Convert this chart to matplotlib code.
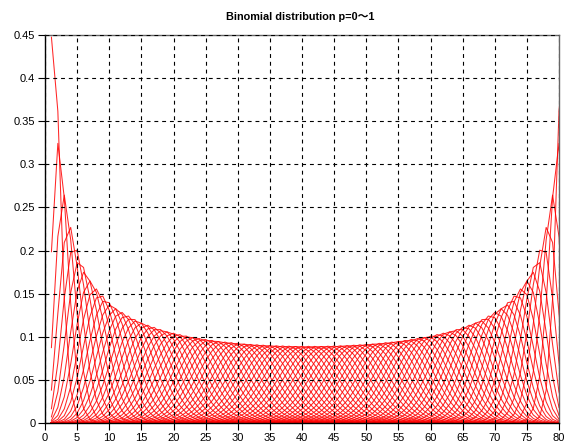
"""
Binomial distribution curves, n=80, p swept from 0 to 1
"""
import math
import numpy as np
import matplotlib
matplotlib.use("Agg")
import matplotlib.pyplot as plt

plt.rcParams['font.family'] = ['Liberation Sans', 'Noto Sans CJK JP', 'DejaVu Sans']

n_trials = 80
p_values = [round(0.01 * i, 2) for i in range(1, 100)]
x_ticks = list(range(0, 81, 5))
y_ticks = [0, 0.05, 0.1, 0.15, 0.2, 0.25, 0.3, 0.35, 0.4, 0.45]
y_labels = ['0', '0.05', '0.1', '0.15', '0.2', '0.25', '0.3', '0.35', '0.4', '0.45']

fig = plt.figure(figsize=(5.65, 4.42), dpi=100)
ax = fig.add_axes([45 / 565, 1 - 423 / 442, 514 / 565, 388 / 442])

k = np.arange(n_trials + 1)
x = k + 1  # index starts at 1
for p in p_values:
    pmf = [math.comb(n_trials, int(i)) * p**i * (1 - p)**(n_trials - i) for i in k]
    ax.plot(x, pmf, color='red', linewidth=0.75, alpha=0.85)

ax.set_xlim(0, 80)
ax.set_ylim(0, 0.45)
ax.set_xticks(x_ticks)
ax.set_yticks(y_ticks)
ax.set_yticklabels(y_labels)
ax.tick_params(labelsize=8, length=5, width=0.8, direction='out', pad=2)
ax.grid(True, color='black', linestyle=(0, (3.5, 3.5)), linewidth=0.8)
ax.set_axisbelow(False)

for side in ['left', 'bottom']:
    ax.spines[side].set_color('black')
    ax.spines[side].set_linewidth(1.0)
for side in ['top', 'right']:
    ax.spines[side].set_color('#666666')
    ax.spines[side].set_linewidth(1.0)

fig.text(0.5 + 18 / 565, 1 - 17 / 442, 'Binomial distribution p=0～1',
         ha='center', va='center', fontsize=7.8, fontweight='bold')

fig.savefig('out.png', dpi=100)
